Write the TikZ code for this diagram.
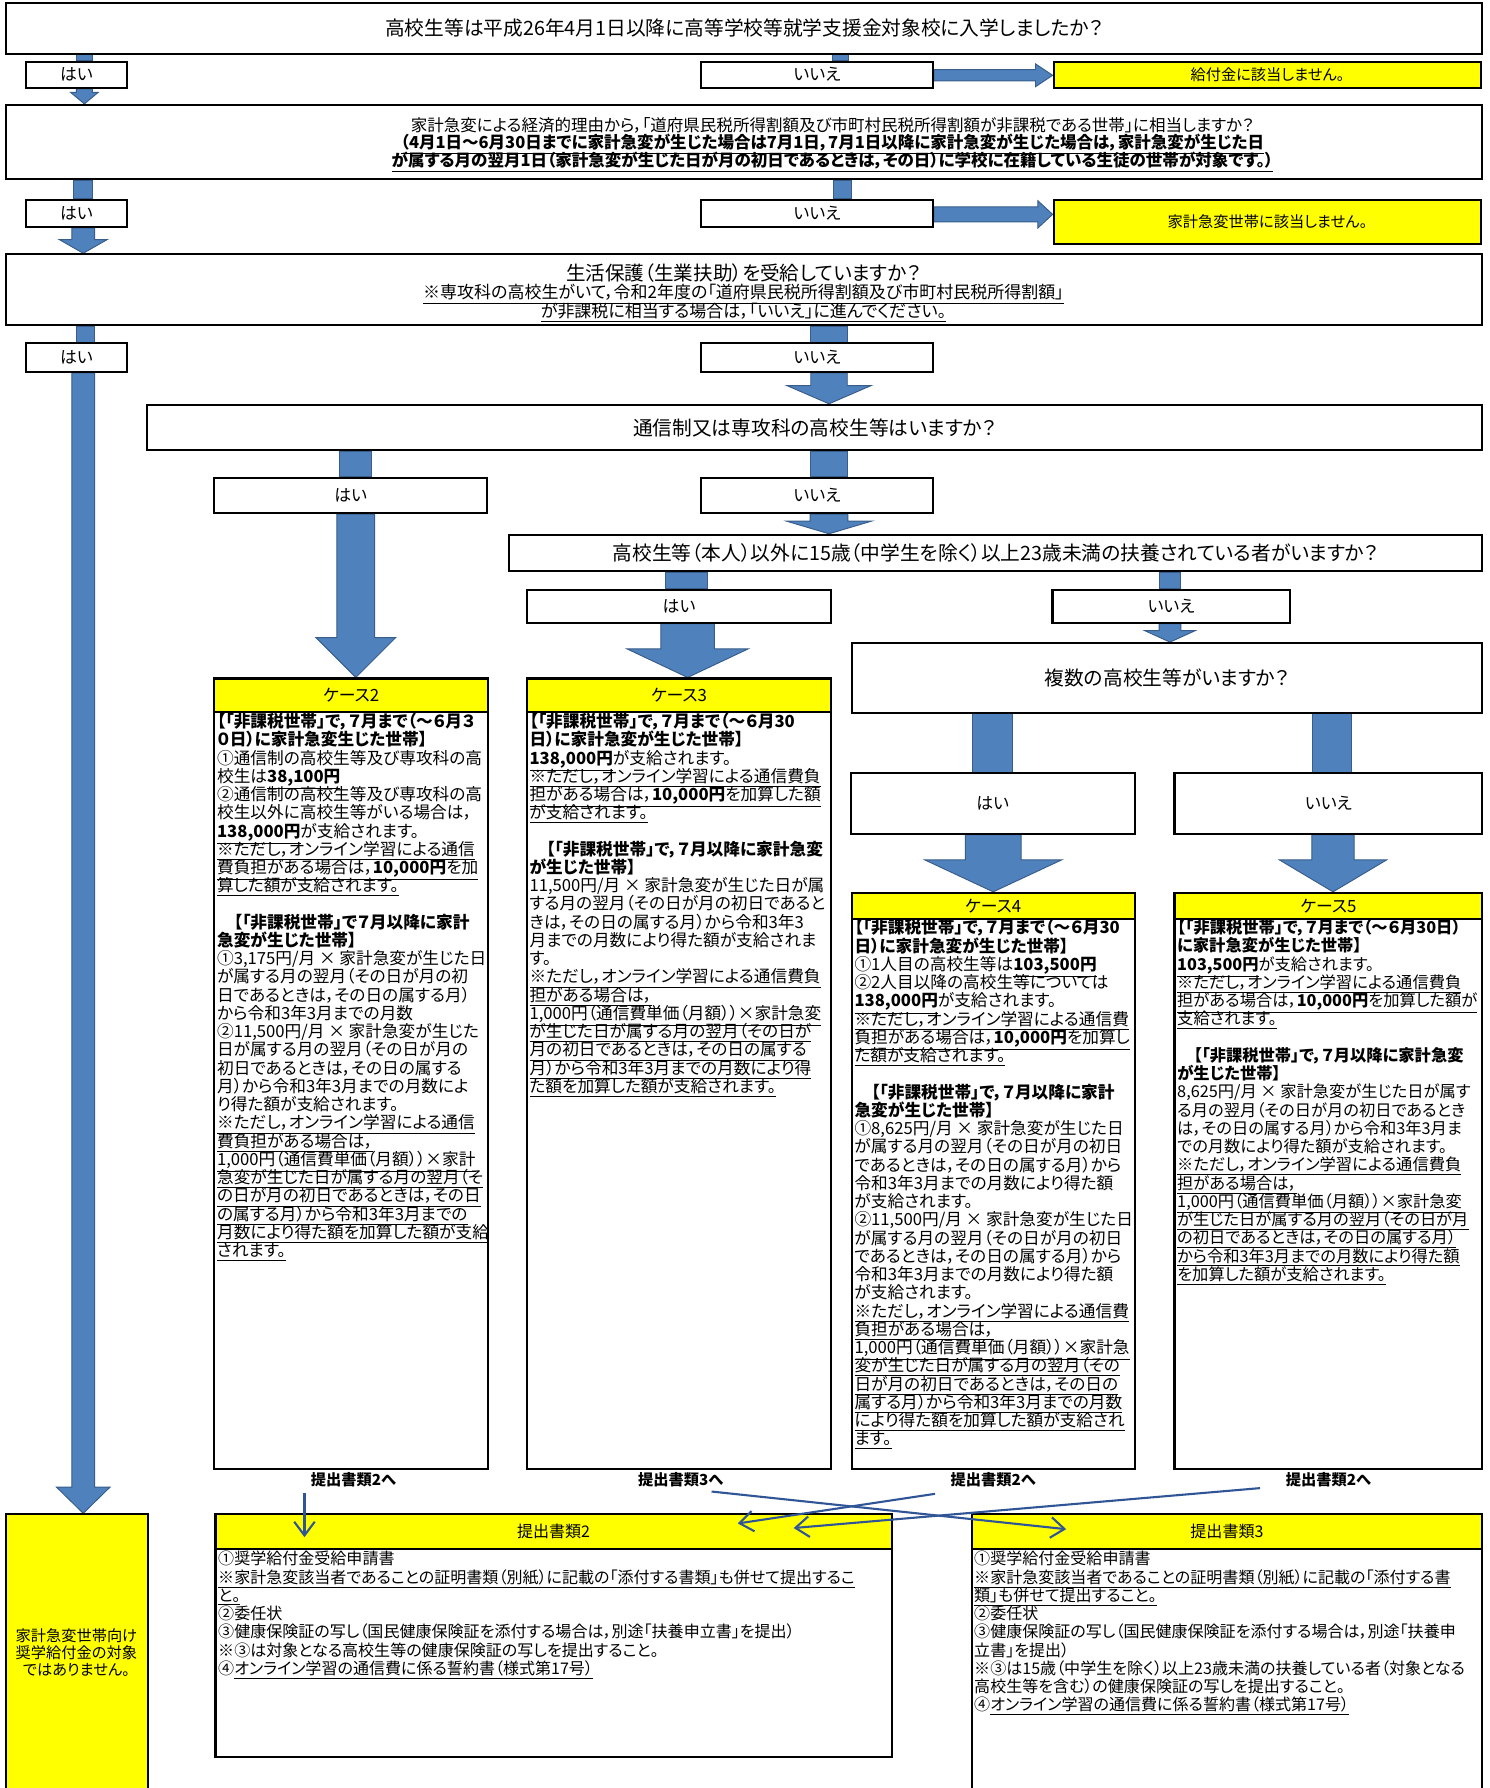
\documentclass[tikz,border=0pt]{standalone}
\usepackage{fontspec}
\setmainfont{Noto Sans CJK JP}[RawFeature=+palt]
\usetikzlibrary{arrows.meta,positioning,fit,calc}

\definecolor{flowblue}{RGB}{79,129,189}
\definecolor{flowedge}{RGB}{56,93,138}
\definecolor{linkblue}{RGB}{47,85,151}
\definecolor{hiyellow}{RGB}{255,255,0}

\pgfdeclarelayer{back}
\pgfsetlayers{back,main}

\newcommand{\uln}[1]{\underline{#1}}
\newcommand{\ulb}[1]{\underline{\textbf{#1}}}
\newcommand{\tightlines}{\setlength{\lineskiplimit}{-20pt}\setlength{\lineskip}{0pt}}
\newcommand{\casefont}{\fontsize{10.4}{11.38}\selectfont\tightlines}
\newcommand{\narrowfont}{\fontsize{10.15}{11.38}\selectfont\tightlines}
\newcommand{\docfont}{\fontsize{10}{11.38}\selectfont\tightlines}
\newcommand{\qtwofont}{\fontsize{10.3}{10.7}\selectfont\tightlines}
\newcommand{\qthreefont}{\fontsize{10.6}{11.7}\selectfont\tightlines}

% x, from, to, half width
\newcommand{\stub}[4]{%
  \path[fill=flowblue,draw=flowedge,line width=0.6pt]
    ($(#1,0 |- #2.south)+(-#4,0)$) rectangle ($(#1,0 |- #3.north)+(#4,0)$);}
% x, from, to, shaft, head, head length
\newcommand{\darrow}[6]{%
  \path[fill=flowblue,draw=flowedge,line width=0.6pt]
    ($(#1,0 |- #2.south)+(-#4,0)$) -- ($(#1,0 |- #3.north)+(-#4,-#6)$)
    -- ($(#1,0 |- #3.north)+(-#5,-#6)$) -- (#1,0 |- #3.north)
    -- ($(#1,0 |- #3.north)+(#5,-#6)$) -- ($(#1,0 |- #3.north)+(#4,-#6)$)
    -- ($(#1,0 |- #2.south)+(#4,0)$) -- cycle;}
% y, from, to, shaft, head, head length
\newcommand{\rarrow}[6]{%
  \path[fill=flowblue,draw=flowedge,line width=0.6pt]
    ($(#2.east |- 0,#1)+(0,-#4)$) -- ($(#3.west |- 0,#1)+(-#6,-#4)$)
    -- ($(#3.west |- 0,#1)+(-#6,-#5)$) -- (#3.west |- 0,#1)
    -- ($(#3.west |- 0,#1)+(-#6,#5)$) -- ($(#3.west |- 0,#1)+(-#6,#4)$)
    -- ($(#2.east |- 0,#1)+(0,#4)$) -- cycle;}

\begin{document}
\begin{tikzpicture}[x=0.025cm, y=-0.025cm,
    box/.style={draw, line width=1.3pt, fill=white, inner sep=0pt},
    yellowbox/.style={box, fill=hiyellow},
    qtext/.style={font=\fontsize{12.3}{14}\selectfont},
    anstext/.style={font=\fontsize{10.5}{12}\selectfont},
    notetext/.style={font=\fontsize{9.5}{11}\selectfont},
    headtext/.style={font=\fontsize{10.5}{12}\selectfont},
    casetext/.style={anchor=north west, inner sep=0pt, align=left, font=\casefont},
    doctext/.style={casetext, font=\docfont},
    tolabel/.style={font=\bfseries\fontsize{9.5}{11}\selectfont},
    link/.style={linkblue, line width=1.3pt, -{Straight Barb[length=3mm,width=4.5mm]}}]

  \useasboundingbox (0,0) rectangle (1306,1568);
  \begin{pgfonlayer}{back}
    \fill[white] (0,0) rectangle (1306,1568);
  \end{pgfonlayer}

  \node[box, fit={(5,3) (1300,47)}] (q1) {};
  \node[qtext] (q1t) at (q1)
    {高校生等は平成26年4月1日以降に高等学校等就学支援金対象校に入学しましたか？};
  \node[box, fit={(23,54) (111,77)}] (y1) {};
  \node[anstext] (y1t) at (y1) {はい};
  \node[box, fit={(615,54) (818,77)}] (n1) {};
  \node[anstext] (n1t) at (n1) {いいえ};
  \node[yellowbox, fit={(924,54) (1299,77)}] (r1) {};
  \node[notetext] (r1t) at (r1) {給付金に該当しません。};

  \node[box, fit={(5,92) (1300,157)}] (q2) {};
  \node[align=center, font=\qtwofont] (q2t) at (730,127)
    {家計急変による経済的理由から，「道府県民税所得割額及び市町村民税所得割額が非課税である世帯」に相当しますか？\\
     \textbf{\uln{（4月1日～6月30日までに家計急変が生じた場合は7月1日，7月1日以降に家計急変が生じた場合は，家計急変が生じた日}}\\
     \textbf{\uln{が属する月の翌月1日（家計急変が生じた日が月の初日であるときは，その日）に学校に在籍している生徒の世帯が対象です。）}}};
  \node[box, fit={(23,175) (111,199)}] (y2) {};
  \node[anstext] (y2t) at (y2) {はい};
  \node[box, fit={(615,175) (818,199)}] (n2) {};
  \node[anstext] (n2t) at (n2) {いいえ};
  \node[yellowbox, fit={(924,175) (1299,214)}] (r2) {};
  \node[notetext] (r2t) at (r2) {家計急変世帯に該当しません。};

  \node[box, fit={(5,223) (1300,285)}] (q3) {};
  \node[align=center, font=\qthreefont] (q3t) at (652,257)
    {{\fontsize{12.2}{12}\selectfont 生活保護（生業扶助）を受給していますか？}\\
     \uln{※専攻科の高校生がいて，令和2年度の「道府県民税所得割額及び市町村民税所得割額」}\\
     \uln{が非課税に相当する場合は，「いいえ」に進んでください。}};
  \node[box, fit={(23,301) (111,326)}] (y3) {};
  \node[anstext] (y3t) at (y3) {はい};
  \node[box, fit={(615,301) (818,326)}] (n3) {};
  \node[anstext] (n3t) at (n3) {いいえ};

  \node[box, fit={(129,355) (1300,395)}] (q4) {};
  \node[qtext] (q4t) at (q4) {通信制又は専攻科の高校生等はいますか？};
  \node[box, fit={(188,419) (427,450)}] (y4) {};
  \node[anstext] (y4t) at (y4) {はい};
  \node[box, fit={(615,419) (818,450)}] (n4) {};
  \node[anstext] (n4t) at (n4) {いいえ};

  \node[box, fit={(446,469) (1300,501)}] (q5) {};
  \node[qtext] (q5t) at (q5)
    {高校生等（本人）以外に15歳（中学生を除く）以上23歳未満の扶養されている者がいますか？};
  \node[box, fit={(462,517) (729,546)}] (y5) {};
  \node[anstext] (y5t) at (y5) {はい};
  \node[box, fit={(923,517) (1131,546)}] (n5) {};
  \node[anstext] (n5t) at (n5) {いいえ};

  \node[box, fit={(747,564) (1300,625)}] (q6) {};
  \node[qtext] (q6t) at (q6) {複数の高校生等がいますか？};
  \node[box, fit={(746,678) (995,731)}] (y6) {};
  \node[anstext] (y6t) at (y6) {はい};
  \node[box, fit={(1030,678) (1300,731)}] (n6) {};
  \node[anstext] (n6t) at (n6) {いいえ};

  \node[yellowbox, fit={(188,595) (428,624)}] (c2h) {};
  \node[headtext] (c2ht) at (c2h) {ケース2};
  \node[box, fit={(188,624) (428,1288)}] (c2b) {};
  \node[casetext] (c2t) at ($(c2b.north west)+(3,2)$)
    {\textbf{【「非課税世帯」で，７月まで（～６月３}\\
     \textbf{０日）に家計急変生じた世帯】}\\
     ①通信制の高校生等及び専攻科の高\\
     校生は\ulb{38,100円}\\
     ②通信制の高校生等及び専攻科の高\\
     校生以外に高校生等がいる場合は，\\
     \ulb{138,000円}が支給されます。\\
     \uln{※ただし，オンライン学習による通信}\\
     \uln{費負担がある場合は，\textbf{10,000円}を加}\\
     \uln{算した額が支給されます。}\\
     \mbox{}\\
     \textbf{　【「非課税世帯」で７月以降に家計}\\
     \textbf{急変が生じた世帯】}\\
     ①3,175円/月 × 家計急変が生じた日\\
     が属する月の翌月（その日が月の初\\
     日であるときは，その日の属する月）\\
     から令和3年3月までの月数\\
     ②11,500円/月 × 家計急変が生じた\\
     日が属する月の翌月（その日が月の\\
     初日であるときは，その日の属する\\
     月）から令和3年3月までの月数によ\\
     り得た額が支給されます。\\
     \uln{※ただし，オンライン学習による通信}\\
     \uln{費負担がある場合は，}\\
     \uln{1,000円（通信費単価（月額））×家計}\\
     \uln{急変が生じた日が属する月の翌月（そ}\\
     \uln{の日が月の初日であるときは，その日}\\
     \uln{の属する月）から令和3年3月までの}\\
     \uln{月数により得た額を加算した額が支給}\\
     \uln{されます。}};

  \node[yellowbox, fit={(462,595) (729,624)}] (c3h) {};
  \node[headtext] (c3ht) at (c3h) {ケース3};
  \node[box, fit={(462,624) (729,1288)}] (c3b) {};
  \node[casetext] (c3t) at ($(c3b.north west)+(3,2)$)
    {\textbf{【「非課税世帯」で，７月まで（～６月30}\\
     \textbf{日）に家計急変が生じた世帯】}\\
     \ulb{138,000円}が支給されます。\\
     \uln{※ただし，オンライン学習による通信費負}\\
     \uln{担がある場合は，\textbf{10,000円}を加算した額}\\
     \uln{が支給されます。}\\
     \mbox{}\\
     \textbf{　【「非課税世帯」で，７月以降に家計急変}\\
     \textbf{が生じた世帯】}\\
     11,500円/月 × 家計急変が生じた日が属\\
     する月の翌月（その日が月の初日であると\\
     きは，その日の属する月）から令和3年3\\
     月までの月数により得た額が支給されま\\
     す。\\
     \uln{※ただし，オンライン学習による通信費負}\\
     \uln{担がある場合は，}\\
     \uln{1,000円（通信費単価（月額））×家計急変}\\
     \uln{が生じた日が属する月の翌月（その日が}\\
     \uln{月の初日であるときは，その日の属する}\\
     \uln{月）から令和3年3月までの月数により得}\\
     \uln{た額を加算した額が支給されます。}};

  \node[yellowbox, fit={(747,783) (995,806)}] (c4h) {};
  \node[headtext] (c4ht) at (c4h) {ケース4};
  \node[box, fit={(747,806) (995,1288)}] (c4b) {};
  \node[casetext] (c4t) at ($(c4b.north west)+(3,1)$)
    {\textbf{【「非課税世帯」で，７月まで（～６月30}\\
     \textbf{日）に家計急変が生じた世帯】}\\
     ①1人目の高校生等は\ulb{103,500円}\\
     ②2人目以降の高校生等については\\
     \ulb{138,000円}が支給されます。\\
     \uln{※ただし，オンライン学習による通信費}\\
     \uln{負担がある場合は，\textbf{10,000円}を加算し}\\
     \uln{た額が支給されます。}\\
     \mbox{}\\
     \textbf{　【「非課税世帯」で，７月以降に家計}\\
     \textbf{急変が生じた世帯】}\\
     ①8,625円/月 × 家計急変が生じた日\\
     が属する月の翌月（その日が月の初日\\
     であるときは，その日の属する月）から\\
     令和3年3月までの月数により得た額\\
     が支給されます。\\
     ②11,500円/月 × 家計急変が生じた日\\
     が属する月の翌月（その日が月の初日\\
     であるときは，その日の属する月）から\\
     令和3年3月までの月数により得た額\\
     が支給されます。\\
     \uln{※ただし，オンライン学習による通信費}\\
     \uln{負担がある場合は，}\\
     \uln{1,000円（通信費単価（月額））×家計急}\\
     \uln{変が生じた日が属する月の翌月（その}\\
     \uln{日が月の初日であるときは，その日の}\\
     \uln{属する月）から令和3年3月までの月数}\\
     \uln{により得た額を加算した額が支給され}\\
     \uln{ます。}};

  \node[yellowbox, fit={(1030,783) (1300,806)}] (c5h) {};
  \node[headtext] (c5ht) at (c5h) {ケース5};
  \node[box, fit={(1030,806) (1300,1288)}] (c5b) {};
  \node[casetext, font=\narrowfont] (c5t) at ($(c5b.north west)+(3,1)$)
    {\textbf{【「非課税世帯」で，７月まで（～６月30日）}\\
     \textbf{に家計急変が生じた世帯】}\\
     \ulb{103,500円}が支給されます。\\
     \uln{※ただし，オンライン学習による通信費負}\\
     \uln{担がある場合は，\textbf{10,000円}を加算した額が}\\
     \uln{支給されます。}\\
     \mbox{}\\
     \textbf{　【「非課税世帯」で，７月以降に家計急変}\\
     \textbf{が生じた世帯】}\\
     8,625円/月 × 家計急変が生じた日が属す\\
     る月の翌月（その日が月の初日であるとき\\
     は，その日の属する月）から令和3年3月ま\\
     での月数により得た額が支給されます。\\
     \uln{※ただし，オンライン学習による通信費負}\\
     \uln{担がある場合は，}\\
     \uln{1,000円（通信費単価（月額））×家計急変}\\
     \uln{が生じた日が属する月の翌月（その日が月}\\
     \uln{の初日であるときは，その日の属する月）}\\
     \uln{から令和3年3月までの月数により得た額}\\
     \uln{を加算した額が支給されます。}};

  \node[tolabel] (l2) at (310,1298) {提出書類2へ};
  \node[tolabel] (l3) at (597,1298) {提出書類3へ};
  \node[tolabel] (l4) at (871,1298) {提出書類2へ};
  \node[tolabel] (l5) at (1165,1298) {提出書類2へ};

  \node[yellowbox, fit={(5,1328) (130,1600)}] (ly) {};
  \node[align=center, font=\fontsize{9.5}{10.7}\selectfont] (lyt) at (67,1449)
    {家計急変世帯向け\\奨学給付金の対象\\ではありません。};

  \node[yellowbox, fit={(189,1328) (782,1358)}] (d2h) {};
  \node[notetext, font=\fontsize{10}{12}\selectfont] (d2ht) at (d2h) {提出書類2};
  \node[box, fit={(189,1358) (782,1541)}] (d2b) {};
  \node[doctext] (d2t) at ($(d2b.north west)+(3,3)$)
    {①奨学給付金受給申請書\\
     \uln{※家計急変該当者であることの証明書類（別紙）に記載の「添付する書類」も併せて提出するこ}\\
     \uln{と。}\\
     ②委任状\\
     ③健康保険証の写し（国民健康保険証を添付する場合は，別途「扶養申立書」を提出）\\
     ※③は対象となる高校生等の健康保険証の写しを提出すること。\\
     ④\uln{オンライン学習の通信費に係る誓約書（様式第17号）}};

  \node[yellowbox, fit={(852,1328) (1300,1358)}] (d3h) {};
  \node[notetext, font=\fontsize{10}{12}\selectfont] (d3ht) at (d3h) {提出書類3};
  \node[box, fit={(852,1358) (1300,1600)}] (d3b) {};
  \node[doctext] (d3t) at ($(d3b.north west)+(3,3)$)
    {①奨学給付金受給申請書\\
     \uln{※家計急変該当者であることの証明書類（別紙）に記載の「添付する書}\\
     \uln{類」も併せて提出すること。}\\
     ②委任状\\
     ③健康保険証の写し（国民健康保険証を添付する場合は，別途「扶養申\\
     立書」を提出）\\
     ※③は15歳（中学生を除く）以上23歳未満の扶養している者（対象となる\\
     高校生等を含む）の健康保険証の写しを提出すること。\\
     ④\uln{オンライン学習の通信費に係る誓約書（様式第17号）}};

  \begin{pgfonlayer}{back}
    \stub{74}{q1}{y1}{7}
    \darrow{74}{y1}{q2}{7}{12}{10}
    \stub{737}{q1}{n1}{7}
    \rarrow{66}{n1}{r1}{5}{10}{15}
    \stub{73}{q2}{y2}{8.5}
    \darrow{73}{y2}{q3}{10}{21}{12}
    \stub{739}{q2}{n2}{8}
    \rarrow{188}{n2}{r2}{6.5}{12}{13}
    \stub{75}{q3}{y3}{8}
    \darrow{73}{y3}{ly}{10}{23.5}{23}
    \stub{727}{q3}{n3}{16}
    \darrow{727}{n3}{q4}{16}{37}{16}
    \stub{312}{q4}{y4}{14}
    \darrow{312}{y4}{c2h}{16.5}{35}{35}
    \stub{727}{q4}{n4}{16.5}
    \darrow{727}{n4}{q5}{16.5}{37}{11}
    \stub{602}{q5}{y5}{18}
    \darrow{603}{y5}{c3h}{23.5}{53}{25}
    \stub{1026}{q5}{n5}{9.5}
    \darrow{1026}{n5}{q6}{9.5}{22}{10}
    \stub{870}{q6}{y6}{17.5}
    \darrow{871}{y6}{c4h}{24.5}{60}{28}
    \stub{1168}{q6}{n6}{17}
    \darrow{1169}{n6}{c5h}{18.5}{47}{28}
  \end{pgfonlayer}

  \coordinate (s2) at (267,1309);
  \coordinate (e2) at (267,1348);
  \coordinate (s3) at (624,1308);
  \coordinate (e3) at (935,1341);
  \coordinate (s4) at (820,1310);
  \coordinate (e4) at (647,1336);
  \coordinate (s5) at (1105,1305);
  \coordinate (e5) at (696,1340);
  \draw[link] (s2) -- (e2);
  \draw[link] (s3) -- (e3);
  \draw[link] (s4) -- (e4);
  \draw[link] (s5) -- (e5);
\end{tikzpicture}
\end{document}
